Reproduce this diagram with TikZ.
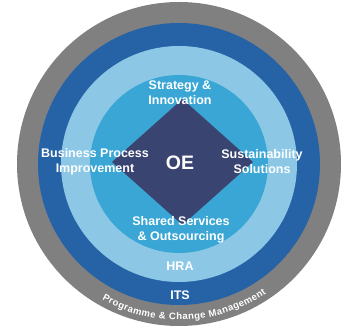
\documentclass[tikz,border=0pt]{standalone}
\usepackage{fontspec}
\setmainfont{Liberation Sans}
\usepackage{xcolor}
\definecolor{ringGray}{RGB}{128, 128, 128}
\definecolor{ringDark}{RGB}{37, 99, 166}
\definecolor{ringLight}{RGB}{140, 200, 230}
\definecolor{ringMid}{RGB}{58, 166, 213}
\definecolor{oeNavy}{RGB}{58, 68, 112}
\usepackage{tikz}
\usetikzlibrary{decorations.text}

\begin{document}
\begin{tikzpicture}[x=1pt, y=1pt,
        lbl/.style={text=white, font=\bfseries\fontsize{12.5}{15}\selectfont, align=center, inner sep=0pt}]
    \useasboundingbox[fill=white] (0,0) rectangle (349,328);
    \coordinate (ctr) at (179,164);
    \foreach \r/\clr in {162/ringGray, 141/ringDark, 118/ringLight, 89/ringMid} {
        \fill[\clr] (ctr) circle[radius=\r pt];
    }
    \fill[oeNavy] (182.5,229) -- (253,166) -- (182.5,103) -- (112,166) -- cycle;
    \node[lbl] (strat) at (180,235.5) {Strategy \&\\Innovation};
    \node[lbl] (bpi) at (95,166.5) {Business Process\\Improvement};
    \node[lbl] (sust) at (262,166.5) {Sustainability\\Solutions};
    \node[lbl] (shared) at (181,98.5) {Shared Services\\\& Outsourcing};
    \node[lbl] (hra) at (180,62) {HRA};
    \node[lbl] (its) at (180,33) {ITS};
    \node[lbl, font=\bfseries\fontsize{19.5}{22}\selectfont] (oe) at (180,165) {OE};
    \path[decorate, decoration={text along path, text color=white, text align={fit to path},
            text={|\bfseries\fontsize{9.5}{10}\selectfont|Programme {\&} Change Management}}]
        (ctr) ++(240.5:156) arc[start angle=240.5, end angle=304, radius=156pt];
\end{tikzpicture}
\end{document}
